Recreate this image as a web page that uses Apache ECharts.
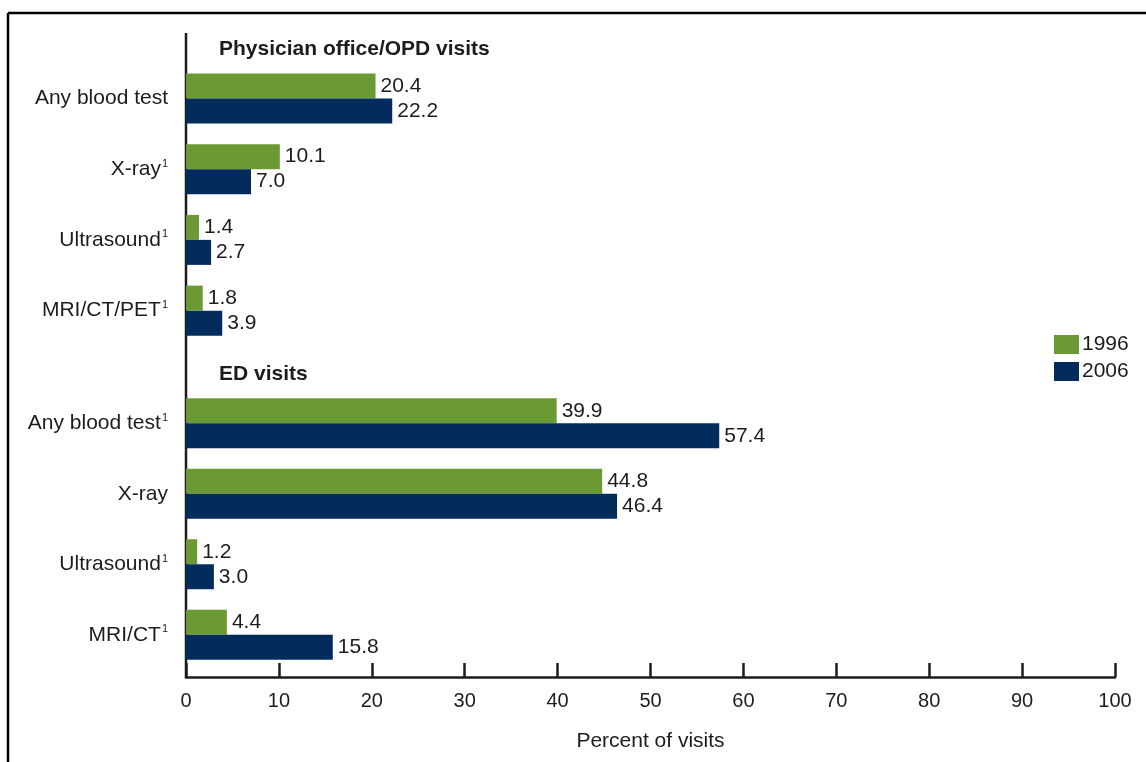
<!DOCTYPE html>
<html>
<head>
<meta charset="utf-8">
<script src="https://cdn.jsdelivr.net/npm/echarts@6/dist/echarts.min.js"></script>
<style>html,body{margin:0;padding:0;background:#fff;}#c{width:1146px;height:762px;}</style>
</head>
<body>
<div id="c"></div>
<script>
const groupTitles = ['Physician office/OPD visits', 'ED visits'];
const catPhys = ['Any blood test', 'X-ray', 'Ultrasound', 'MRI/CT/PET'];
const footPhys = ['', '1', '1', '1'];
const catED = ['Any blood test', 'X-ray', 'Ultrasound', 'MRI/CT'];
const footED = ['1', '', '1', '1'];
const seriesNames = ['1996', '2006'];
const phys1996 = [20.4, 10.1, 1.4, 1.8];
const phys2006 = [22.2, 7.0, 2.7, 3.9];
const ed1996 = [39.9, 44.8, 1.2, 4.4];
const ed2006 = [57.4, 46.4, 3.0, 15.8];
const xTicks = [0, 10, 20, 30, 40, 50, 60, 70, 80, 90, 100];
const xName = 'Percent of visits';

const GREEN = '#6B9A34', NAVY = '#032B5B', TXT = '#1c1c1c';
const FONT = '"Liberation Sans", Arial, sans-serif';
const FS = 21;

function catLabels(cats, foots) {
  return cats.map((c, i) => foots[i] ? '{n|' + c + '}{s|' + foots[i] + '}' : '{n|' + c + '}');
}
const rich = {
  n: { fontSize: FS, color: TXT, fontFamily: FONT },
  s: { fontSize: 11, color: TXT, fontFamily: FONT, verticalAlign: 'top', padding: [0, 0, 11, 1] }
};

function yAx(gi, cats, foots) {
  return {
    type: 'category', gridIndex: gi, inverse: true,
    data: catLabels(cats, foots),
    axisLine: { show: false }, axisTick: { show: false },
    axisLabel: { margin: 18, rich: rich, formatter: v => v }
  };
}
function xAx(gi, show) {
  return {
    type: 'value', gridIndex: gi, min: xTicks[0], max: xTicks[xTicks.length - 1], interval: 10,
    show: show, offset: 7,
    splitLine: { show: false },
    axisLine: { show: true, lineStyle: { color: TXT, width: 2.5 } },
    axisTick: { show: true, inside: true, length: 14, lineStyle: { color: TXT, width: 2.5 } },
    axisLabel: { fontSize: 20, color: TXT, fontFamily: FONT, margin: 14 },
    name: xName, nameLocation: 'middle', nameGap: 54,
    nameTextStyle: { fontSize: FS, color: TXT, fontFamily: FONT }
  };
}
const lbl = { show: true, position: 'right', distance: 5, fontSize: FS, color: TXT, fontFamily: FONT, formatter: p => p.value.toFixed(1) };
function bar(name, data, gi, color) {
  return { name: name, type: 'bar', xAxisIndex: gi, yAxisIndex: gi, data: data,
    barWidth: 25, barGap: '0%', itemStyle: { color: color }, label: lbl, emphasis: { disabled: true } };
}

const chart = echarts.init(document.getElementById('c'), null, { renderer: 'canvas' });
chart.setOption({
  animation: false,
  textStyle: { fontFamily: FONT },
  grid: [
    { left: 186, right: 31, top: 63, height: 283 },
    { left: 186, right: 31, top: 388, height: 282 }
  ],
  xAxis: [xAx(0, false), xAx(1, true)],
  yAxis: [yAx(0, catPhys, footPhys), yAx(1, catED, footED)],
  legend: {
    orient: 'vertical', left: 1049, top: 329, itemWidth: 25, itemHeight: 19, itemGap: 6,
    icon: 'rect', data: seriesNames,
    textStyle: { fontSize: FS, color: TXT, fontFamily: FONT, padding: [0, 0, 0, -2] }
  },
  series: [
    bar(seriesNames[0], phys1996, 0, GREEN),
    bar(seriesNames[1], phys2006, 0, NAVY),
    bar(seriesNames[0], ed1996, 1, GREEN),
    bar(seriesNames[1], ed2006, 1, NAVY)
  ],
  graphic: [
    { type: 'line', shape: { x1: 8, y1: 13, x2: 1146, y2: 13 }, style: { stroke: '#000', lineWidth: 2.5 } },
    { type: 'line', shape: { x1: 8, y1: 13, x2: 8, y2: 762 }, style: { stroke: '#000', lineWidth: 2.5 } },
    { type: 'line', shape: { x1: 186, y1: 33, x2: 186, y2: 678 }, style: { stroke: TXT, lineWidth: 2.5 } },
    { type: 'text', left: 219, top: 39, style: { text: groupTitles[0], font: 'bold ' + FS + 'px ' + FONT, fill: TXT } },
    { type: 'text', left: 219, top: 364, style: { text: groupTitles[1], font: 'bold ' + FS + 'px ' + FONT, fill: TXT } }
  ]
});
</script>
</body>
</html>
